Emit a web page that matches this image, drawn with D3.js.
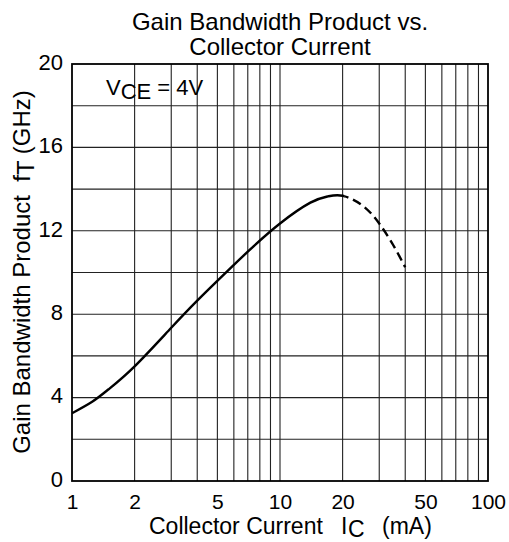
<!DOCTYPE html>
<html><head><meta charset="utf-8">
<script src="https://cdn.jsdelivr.net/npm/d3@7"></script>
<style>body{margin:0;background:#fff}text{font-family:"Liberation Sans",Arial,sans-serif;fill:#000}</style>
</head><body>
<svg id="c" width="509" height="542"></svg>
<script>
// measured curve (solid up to solidEnd, dashed beyond)
const current = [1, 1.25, 1.5, 2, 3, 4, 5, 7, 10, 14, 17, 20, 25, 30, 35, 40];
const ft      = [3.25, 3.8, 4.4, 5.5, 7.35, 8.65, 9.6, 11.0, 12.35, 13.35, 13.65, 13.68, 13.2, 12.35, 11.32, 10.25];
const solidEnd = [20.5];
const xTickLabels  = [1, 2, 5, 10, 20, 50, 100];
const yTickLabels  = [0, 4, 8, 12, 16, 20];
const xGrid = [2,3,4,5,6,7,8,9,10,20,30,40,50,60,70,80,90];
const yGrid = [2,4,6,8,10,12,14,16,18];

const svg = d3.select("#c");
const L=72, R=488, T=64, B=481;
const x = d3.scaleLog().domain([1,100]).range([L,R]);
const y = d3.scaleLinear().domain([0,20]).range([B,T]);

const g = svg.append("g");
g.selectAll(".vg").data(xGrid).enter().append("line")
  .attr("x1",d=>x(d)).attr("x2",d=>x(d)).attr("y1",T).attr("y2",B)
  .attr("stroke","#222").attr("stroke-width",1.1);
g.selectAll(".hg").data(yGrid).enter().append("line")
  .attr("y1",d=>y(d)).attr("y2",d=>y(d)).attr("x1",L).attr("x2",R)
  .attr("stroke","#222").attr("stroke-width",1.1);
g.append("rect").attr("x",L).attr("y",T).attr("width",R-L).attr("height",B-T)
  .attr("fill","none").attr("stroke","#000").attr("stroke-width",1.8);

const xa = d3.axisBottom(x).tickValues(xTickLabels).tickFormat(d3.format("d")).tickSize(0).tickPadding(0);
const xg = svg.append("g").attr("transform",`translate(0,${B})`).call(xa);
xg.select(".domain").remove();
xg.selectAll("text").attr("font-size",21).attr("font-family","Liberation Sans, Arial, sans-serif").attr("fill","#000").attr("dy",null).attr("y",28);

const ya = d3.axisLeft(y).tickValues(yTickLabels).tickSize(0).tickPadding(0);
const yg = svg.append("g").attr("transform",`translate(${L-9},0)`).call(ya);
yg.select(".domain").remove();
yg.selectAll("text").attr("font-size",22).attr("font-family","Liberation Sans, Arial, sans-serif").attr("fill","#000").attr("dy","0.24em");

const defs = svg.append("defs");
defs.append("clipPath").attr("id","cs").append("rect")
  .attr("x",L).attr("y",T).attr("width",x(solidEnd[0])-L).attr("height",B-T);
defs.append("clipPath").attr("id","cd").append("rect")
  .attr("x",x(solidEnd[0])).attr("y",T).attr("width",R-x(solidEnd[0])).attr("height",B-T);

const pts = current.map((c,i)=>[c,ft[i]]);
const line = d3.line().x(d=>x(d[0])).y(d=>y(d[1])).curve(d3.curveNatural);
svg.append("path").datum(pts).attr("clip-path","url(#cs)")
  .attr("d",line).attr("fill","none").attr("stroke","#000").attr("stroke-width",2.4);
svg.append("path").datum(pts).attr("clip-path","url(#cd)")
  .attr("d",line).attr("fill","none").attr("stroke","#000").attr("stroke-width",2.4)
  .attr("stroke-dasharray","9,5");

svg.append("text").attr("x",280).attr("y",30).attr("text-anchor","middle").attr("font-size",24).text("Gain Bandwidth Product vs.");
svg.append("text").attr("x",280).attr("y",55).attr("text-anchor","middle").attr("font-size",24).text("Collector Current");

const v = svg.append("text").attr("x",106).attr("y",95).attr("font-size",22);
v.append("tspan").text("V");
v.append("tspan").attr("dy",4).text("CE");
v.append("tspan").attr("dy",-4).text(" = 4V");

const xl = svg.append("text").attr("y",534).attr("font-size",23);
xl.append("tspan").attr("x",149).text("Collector Current");
xl.append("tspan").attr("x",341).text("I");
xl.append("tspan").attr("x",348).attr("dy",3).text("C");
xl.append("tspan").attr("x",382).attr("dy",-3).text("(mA)");

const yl = svg.append("text").attr("transform","translate(30,272) rotate(-90)").attr("text-anchor","middle").attr("font-size",24);
yl.append("tspan").text("Gain Bandwidth Product\u00A0\u00A0f");
yl.append("tspan").attr("dy",4).text("T");
yl.append("tspan").attr("dy",-4).text(" (GHz)");
</script>
</body></html>
